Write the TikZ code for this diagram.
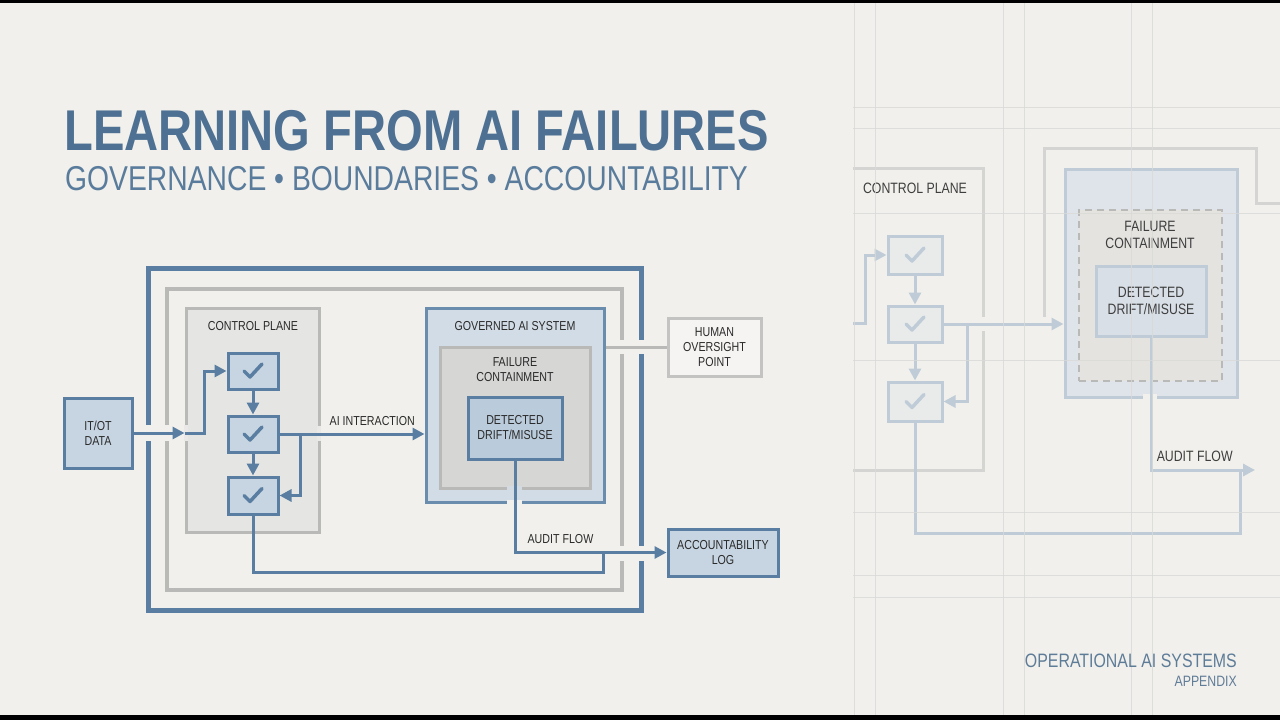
\documentclass[tikz,border=0pt]{standalone}
\usepackage{fontspec}
\setmainfont{Liberation Sans}[FakeStretch=0.82]
\usetikzlibrary{positioning,arrows.meta}
\definecolor{paper}{HTML}{F1F0EC}
\definecolor{ink}{HTML}{2A2A2A}
\definecolor{steel}{HTML}{5A7EA1}
\definecolor{titleblue}{HTML}{4E7193}
\definecolor{subblue}{HTML}{5A7C9C}
\definecolor{opsblue}{HTML}{5E7C98}
\definecolor{boxblue}{HTML}{C7D5E2}
\definecolor{driftblue}{HTML}{BACBDB}
\definecolor{govblue}{HTML}{D2DCE6}
\definecolor{govedge}{HTML}{6B8DAD}
\definecolor{rimgrey}{HTML}{B9B9B7}
\definecolor{panelgrey}{HTML}{E5E5E3}
\definecolor{fcgrey}{HTML}{D6D6D4}
\definecolor{ghostline}{HTML}{BFCCD8}
\definecolor{ghostgrey}{HTML}{D4D4D2}
\definecolor{ghostfill}{HTML}{DEE4EA}
\definecolor{ghostink}{HTML}{3E3E3E}
\definecolor{gridgrey}{HTML}{D9D9D7}

\begin{document}
\begin{tikzpicture}[x=1pt,y=-1pt,
  font=\fontsize{13}{15}\selectfont,
  lbl/.style={text=ink, align=center, inner sep=0pt},
  blk/.style={rectangle, draw=steel, line width=3pt, fill=boxblue, inner sep=0pt,
    align=center, text=ink},
  chkbox/.style={blk, minimum width=50pt, minimum height=36pt},
  panel/.style={rectangle, draw=rimgrey, line width=3pt, fill=panelgrey, inner sep=0pt},
  flow/.style={draw=steel, line width=3pt, -{Triangle[length=12pt,width=12pt]}},
  wire/.style={draw=steel, line width=3pt},
  tickmark/.style={draw=steel, line width=3.5pt, line cap=round, line join=round},
  cut/.style={fill=paper},
  gbox/.style={rectangle, draw=ghostline, line width=3pt, fill=ghostfill, inner sep=0pt,
    align=center, text=ghostink, font=\fontsize{15}{17}\selectfont},
  gflow/.style={draw=ghostline, line width=3pt, -{Triangle[length=12pt,width=12pt]}},
  gwire/.style={draw=ghostline, line width=3pt},
  gtick/.style={draw=ghostline, line width=3.5pt, line cap=round, line join=round},
  glbl/.style={text=ghostink, align=center, inner sep=0pt, font=\fontsize{15}{17}\selectfont},
]
\useasboundingbox (0,0) rectangle (1280,720);
\fill[paper] (0,0) rectangle (1280,720);
\fill[black] (0,0) rectangle (1280,3);
\fill[black] (0,715) rectangle (1280,720);

% heading
\node[anchor=base west, inner sep=0pt, text=titleblue, font=\bfseries\fontsize{57.5}{60}\selectfont]
  (title) at (64,150) {LEARNING FROM AI FAILURES};
\node[anchor=base west, inner sep=0pt, text=subblue, font=\fontsize{34.5}{36}\selectfont]
  (subtitle) at (65,190) {GOVERNANCE • BOUNDARIES • ACCOUNTABILITY};

% boundaries
\draw[steel, line width=5pt] (148,268) rectangle (641,610);
\draw[rimgrey, line width=3.5pt] (167,289) rectangle (622,590);

\node[panel, minimum width=133pt, minimum height=224pt] (cp) at (252.5,420) {};
\node[rectangle, draw=govedge, line width=3pt, fill=govblue, minimum width=178pt,
  minimum height=194pt] (gov) at (515,405) {};
\node[panel, fill=fcgrey, minimum width=150pt, minimum height=141pt] (fc) at (515,417.5) {};

% openings for the connectors
\fill[cut] (144,425) rectangle (152,441);
\fill[cut] (164,425) rectangle (170,441);
\fill[panelgrey!60!paper] (184,425) rectangle (188,441);
\fill[panelgrey!60!paper] (317,426) rectangle (321,441);
\fill[cut] (619,340) rectangle (625,354);
\fill[cut] (619,546) rectangle (625,561);
\fill[cut] (637,340) rectangle (645,354);
\fill[cut] (637,546) rectangle (645,561);
\fill[cut] (507,500.2) rectangle (522,503.8);
\fill[govblue!70!fcgrey] (507,486.2) rectangle (522,489.8);

\node[lbl] (cplbl) at (253,326) {CONTROL PLANE};
\node[lbl] (govlbl) at (515,326) {GOVERNED AI SYSTEM};
\node[lbl] (fclbl) at (515,370) {FAILURE\\CONTAINMENT};

\node[chkbox] (c1) at (253,371) {};
\node[chkbox] (c2) at (253,434) {};
\node[chkbox, minimum height=37pt] (c3) at (253,495.5) {};
\foreach \c in {c1,c2,c3}
  \draw[tickmark, shift={(\c.center)}] (-9,0) -- (-3,6) -- (9,-7);

\node[blk, minimum width=68pt, minimum height=70pt] (itot) at (98,433) {IT/OT\\DATA};
\node[blk, fill=driftblue, minimum width=94pt, minimum height=62pt] (drift) at (515,428)
  {DETECTED\\DRIFT/MISUSE};
\node[blk, draw=rimgrey!85, fill=paper!70!white, minimum width=93pt, minimum height=58pt]
  (human) at (714.5,347) {HUMAN\\OVERSIGHT\\POINT};
\node[blk, minimum width=110pt, minimum height=47pt] (acclog) at (723,552.5)
  {ACCOUNTABILITY\\LOG};

\coordinate (inlet) at (cp.west |- itot.east);
\coordinate (split) at (300,434);
\coordinate (loop) at (603,572);

\draw[flow] (itot.east) -- (inlet);
\draw[flow] (inlet) -- ++(20,0) |- (c1.west);
\draw[flow] (c1) -- (c2);
\draw[flow] (c2) -- (c3);
\draw[flow] (c2.east) -- node[lbl, pos=0.64, above=7pt] (ailbl) {AI INTERACTION} (gov.west |- c2.east);
\draw[flow] (split) |- (c3.east);
\draw[rimgrey, line width=3pt] (gov.east |- human.west) -- (human.west);
\draw[flow] (drift.south) |- node[lbl, pos=0.65, above=7pt] (auditlbl) {AUDIT FLOW} (acclog.west);
\draw[wire] (c3.south) |- (loop) -- (loop |- acclog.west);

% faded copy on the right
\draw[ghostgrey, line width=3pt] (1044,317) -- (1044,148) -- (1256,148) -- (1256,203) -- (1280,203);
\node[rectangle, fill=paper, minimum width=130pt, minimum height=301pt] (rcp) at (918,319.5) {};
\draw[ghostgrey, line width=3pt] (rcp.north west) -- (rcp.north east) -- (rcp.south east) -- (rcp.south west);
\node[gbox, minimum width=172pt, minimum height=228pt] (rgov) at (1151,283) {};
\node[rectangle, draw=rimgrey, dashed, dash pattern=on 7pt off 5pt, line width=1.5pt,
  fill=ghostgrey!45!paper, minimum width=143pt, minimum height=171pt] (rfc) at (1150.5,295.5) {};
\fill[cut] (980,317) rectangle (986,331);
\fill[cut] (1143,394) rectangle (1157,400);

\node[glbl] (rcplbl) at (915,188) {CONTROL PLANE};
\node[glbl] (rfclbl) at (1150,235) {FAILURE\\CONTAINMENT};
\node[gbox, fill=ghostfill!80!ghostline, minimum width=110pt, minimum height=70pt]
  (rdrift) at (1151,301) {DETECTED\\DRIFT/MISUSE};

\node[gbox, fill=paper!60!ghostfill, minimum width=54pt, minimum height=38pt] (rc1) at (915,255) {};
\node[gbox, fill=paper!60!ghostfill, minimum width=54pt, minimum height=36pt] (rc2) at (915,324) {};
\node[gbox, fill=paper!60!ghostfill, minimum width=54pt, minimum height=39pt] (rc3) at (915,401.5) {};
\foreach \c in {rc1,rc2,rc3}
  \draw[gtick, shift={(\c.center)}] (-9,0) -- (-3,6) -- (9,-7);

\coordinate (rinlet) at (853,323);
\coordinate (rsplit) at (967,324);
\coordinate (rloop) at (1240,533);
\coordinate (rend) at (1255,470);

\draw[gflow] (rinlet) -- ++(12,0) |- (rc1.west);
\draw[gflow] (rc1) -- (rc2);
\draw[gflow] (rc2) -- (rc3);
\draw[gflow] (rc2.east) -- (rgov.west |- rc2.east);
\draw[gflow] (rsplit) |- (rc3.east);
\draw[gflow] (rdrift.south) |- node[glbl, pos=0.71, above=7pt] (rauditlbl) {AUDIT FLOW} (rend);
\draw[gwire] (rc3.south) |- (rloop) -- (rloop |- rend);

% grid
\foreach \gx in {854,875,1003,1024,1131,1152}
  \draw[gridgrey, line width=1pt, opacity=0.8] (\gx,3) -- (\gx,715);
\foreach \gy in {107,128,213,360,512,575,597}
  \draw[gridgrey, line width=1pt, opacity=0.8] (853,\gy) -- (1280,\gy);

\node[anchor=base east, inner sep=0pt, text=opsblue, font=\fontsize{19.4}{21}\selectfont]
  (opsys) at (1237,667) {OPERATIONAL AI SYSTEMS};
\node[anchor=base east, inner sep=0pt, text=subblue!85!gray, font=\fontsize{15}{17}\selectfont]
  (appx) at (1237,686) {APPENDIX};
\end{tikzpicture}
\end{document}
